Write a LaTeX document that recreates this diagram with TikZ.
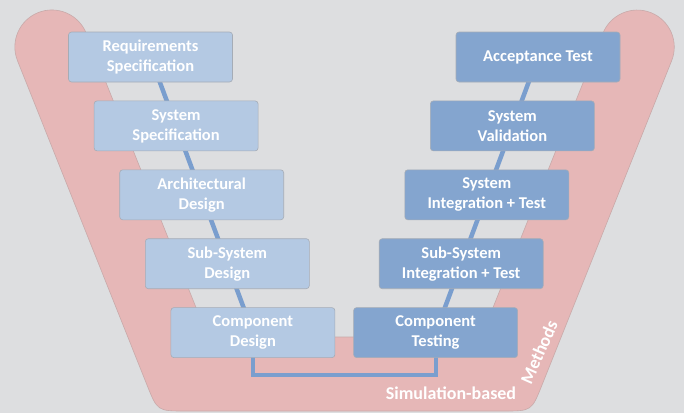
\documentclass[tikz,border=0pt]{standalone}
\usepackage{fontspec}
\setmainfont{Carlito}
\pgfdeclarelayer{back}
\pgfdeclarelayer{mid}
\pgfsetlayers{back,mid,main}
\definecolor{bgc}{RGB}{221,222,224}
\definecolor{pinkc}{RGB}{230,183,183}
\definecolor{pinkedge}{RGB}{200,170,170}
\definecolor{lightbox}{RGB}{180,201,227}
\definecolor{darkbox}{RGB}{132,165,207}
\definecolor{connc}{RGB}{122,158,206}
\definecolor{boxedge}{RGB}{165,172,182}
\tikzset{
  vbox/.style={rectangle, rounded corners=3pt, minimum width=164pt, minimum height=50pt,
    inner sep=0pt, align=center, text=white, draw=boxedge, line width=0.6pt,
    font=\fontsize{16.5}{20}\selectfont\bfseries},
  leftbox/.style={vbox, fill=lightbox},
  rightbox/.style={vbox, fill=darkbox},
  conn/.style={draw=connc, line width=4.5pt},
  bandlabel/.style={text=white, font=\fontsize{18}{20}\selectfont\bfseries, inner sep=0pt}
}
\begin{document}
\begin{tikzpicture}[x=1pt,y=-1pt]
\useasboundingbox (0,0) rectangle (684,413);
\begin{pgfonlayer}{back}
\fill[bgc] (0,0) rectangle (684,413);
\filldraw[fill=pinkc, draw=pinkedge, line width=0.6pt]
  (17.5,60.7) arc[start angle=158.2, end angle=338.2, radius=37]
  -- (207.8,337) -- (481.2,337) -- (602.9,33.3)
  arc[start angle=201.8, end angle=381.8, radius=37]
  -- (542,385) .. controls (531.6,411) .. (503.6,411)
  -- (185.4,411) .. controls (157.4,411) .. (147,385) -- cycle;
\end{pgfonlayer}

\node[leftbox] (L1) at (150.5,57) {Requirements\\Specification};
\node[leftbox] (L2) at (176.1,125.9) {System\\Specification};
\node[leftbox] (L3) at (201.7,194.8) {Architectural\\Design};
\node[leftbox] (L4) at (227.3,263.7) {Sub-System\\Design};
\node[leftbox] (L5) at (252.9,332.6) {Component\\Design};

\node[rightbox] (R1) at (538,57) {Acceptance Test};
\node[rightbox] (R2) at (512.4,125.9) {System\\Validation};
\node[rightbox] (R3) at (486.8,194.8) {System\\Integration + Test};
\node[rightbox] (R4) at (461.2,263.7) {Sub-System\\Integration + Test};
\node[rightbox] (R5) at (435.6,332.6) {Component\\Testing};

\coordinate (ubottom) at (0,375);
\begin{pgfonlayer}{mid}
\draw[conn] (L1.center) -- (L2.center) -- (L3.center) -- (L4.center) -- (L5.center);
\draw[conn] (R1.center) -- (R2.center) -- (R3.center) -- (R4.center) -- (R5.center);
\draw[conn, line width=4pt] (L5.center) -- (L5.center |- ubottom) -- (R5.center |- ubottom) -- (R5.center);
\end{pgfonlayer}

\node[bandlabel] (sim) at (451,393) {Simulation-based};
\node[bandlabel, rotate=66] (meth) at (539,352) {Methods};
\end{tikzpicture}
\end{document}
